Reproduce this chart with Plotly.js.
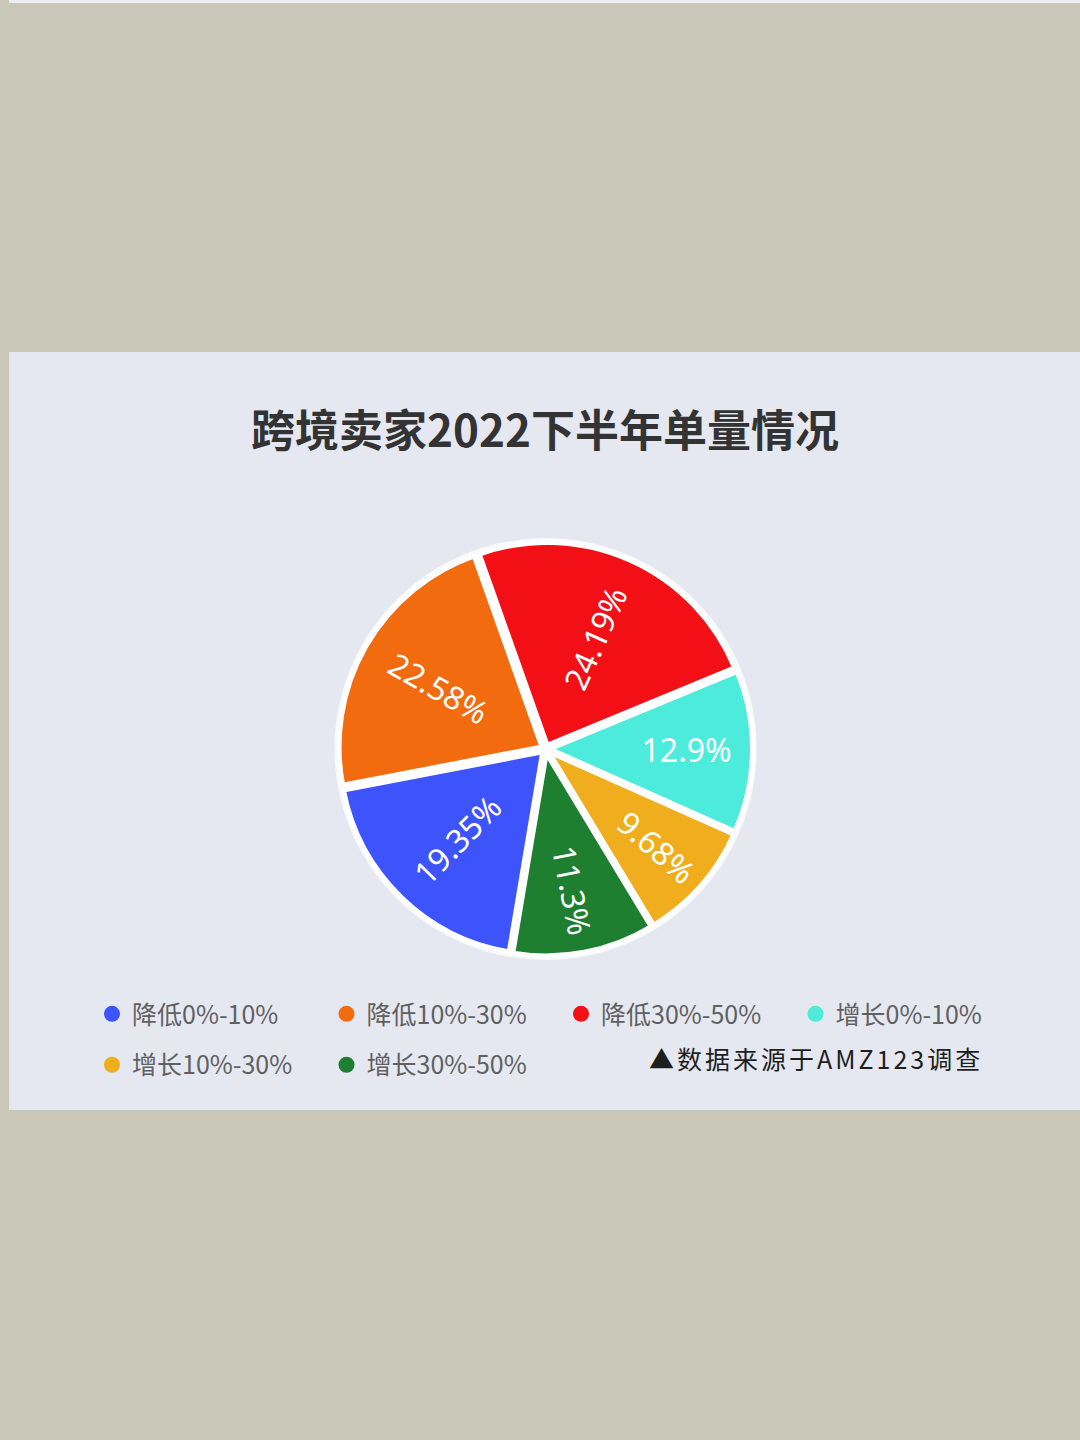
<!DOCTYPE html>
<html>
<head>
<meta charset="utf-8">
<script src="https://cdn.plot.ly/plotly-3.0.1.min.js"></script>
<style>
  html, body { margin: 0; padding: 0; }
  body { width: 1080px; height: 1440px; background: #c9c7b8; position: relative; overflow: hidden; }
  #topstrip { position: absolute; left: 9px; top: 0; width: 1071px; height: 3px; background: #eceef4; }
  #chart { position: absolute; left: 9px; top: 352px; width: 1071px; height: 758px; }
</style>
</head>
<body>
<div id="topstrip"></div>
<div id="chart"></div>
<script>
// ---- data ----
const titleText = '跨境卖家2022下半年单量情况';
const labels = ['降低0%-10%', '降低10%-30%', '降低30%-50%', '增长0%-10%', '增长10%-30%', '增长30%-50%'];
const values = [19.35, 22.58, 24.19, 12.9, 9.68, 11.3];
const valueText = ['19.35%', '22.58%', '24.19%', '12.9%', '9.68%', '11.3%'];
const colors = ['#3d53fc', '#f26b0f', '#f21016', '#4debdb', '#f0ae1e', '#1f7f30'];
const legendRow = ['legend', 'legend', 'legend', 'legend', 'legend2', 'legend2'];
const sourceNote = '▲数据来源于AMZ123调查';

const cjk = '"Noto Sans CJK SC", "Noto Sans", sans-serif';

const traces = [{
  type: 'pie',
  labels: labels,
  values: values,
  text: valueText,
  textinfo: 'text',
  textposition: 'inside',
  insidetextorientation: 'radial',
  insidetextfont: { color: '#ffffff', size: 32, family: '"Noto Sans", "Open Sans", sans-serif' },
  sort: false,
  direction: 'clockwise',
  rotation: -170.5,
  pull: 0.02,
  marker: { colors: colors, line: { color: '#ffffff', width: 5 } },
  domain: { x: [0.3077, 0.6942], y: [0.2032, 0.7493] },
  showlegend: false,
  hoverinfo: 'skip'
}];

labels.forEach(function (lab, i) {
  traces.push({
    type: 'scatter',
    mode: 'markers',
    x: [null], y: [null],
    name: lab,
    marker: { color: colors[i], size: 16, symbol: 'circle' },
    showlegend: true,
    legend: legendRow[i],
    hoverinfo: 'skip'
  });
});

const legendCommon = {
  orientation: 'h',
  xanchor: 'left',
  yanchor: 'middle',
  bgcolor: 'rgba(0,0,0,0)',
  borderwidth: 0,
  font: { family: cjk, size: 25, color: '#606060' },
  entrywidth: 189.5,
  entrywidthmode: 'pixels',
  itemclick: false,
  itemdoubleclick: false
};

const layout = {
  width: 1071,
  height: 758,
  margin: { l: 0, r: 0, t: 0, b: 0 },
  paper_bgcolor: '#e5e8f1',
  plot_bgcolor: 'rgba(0,0,0,0)',
  title: {
    text: '<b>' + titleText + '</b>',
    x: 0.5005, xanchor: 'center',
    y: 0.8945, yanchor: 'middle',
    xref: 'paper', yref: 'paper',
    font: { family: cjk, size: 44, color: '#333333' }
  },
  xaxis: { visible: false },
  yaxis: { visible: false },
  legend: Object.assign({}, legendCommon, { x: 0.0775, y: 0.1266 }),
  legend2: Object.assign({}, legendCommon, { x: 0.0775, y: 0.0594 }),
  shapes: [{
    type: 'circle', xref: 'paper', yref: 'paper', layer: 'below',
    x0: 0.3039, x1: 0.6981, y0: 0.1979, y1: 0.7546,
    fillcolor: '#f8f9fc', line: { width: 0 }
  }],
  annotations: [{
    text: '<span style="letter-spacing:3px">' + sourceNote + '</span>',
    xref: 'paper', yref: 'paper',
    x: 0.9113, xanchor: 'right',
    y: 0.0686, yanchor: 'middle',
    showarrow: false,
    font: { family: cjk, size: 25, color: '#1e1e1e' }
  }]
};

Plotly.newPlot('chart', traces, layout, { displayModeBar: false, staticPlot: true });
</script>
</body>
</html>
